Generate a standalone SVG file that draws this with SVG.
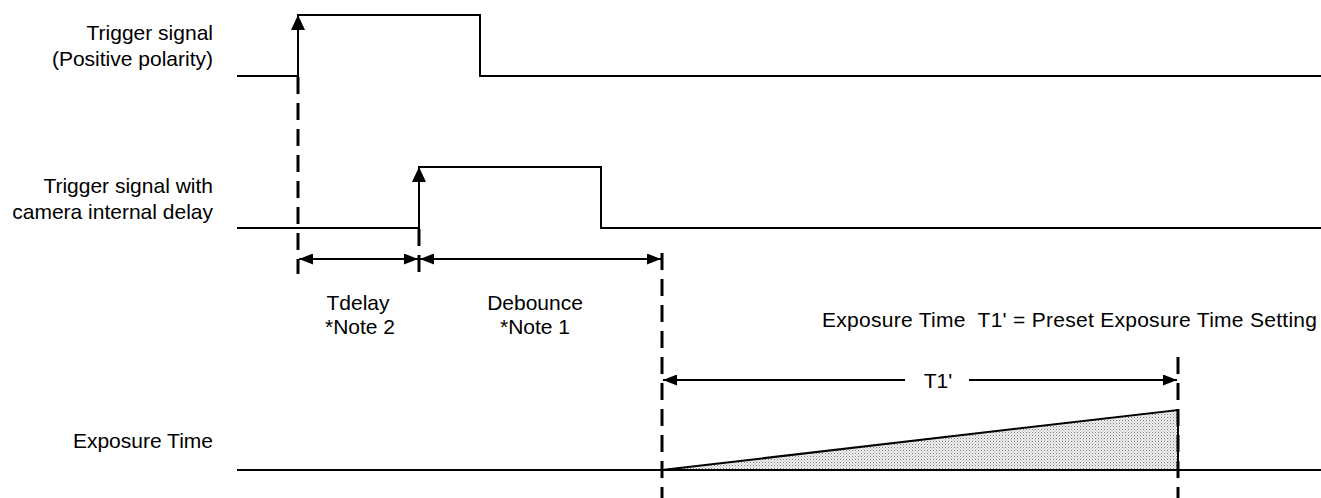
<svg xmlns="http://www.w3.org/2000/svg" width="1321" height="498" viewBox="0 0 1321 498">
<style>
text{font-family:"Liberation Sans",Arial,sans-serif;font-size:21px;fill:#000;white-space:pre}
.sig{fill:none;stroke:#000;stroke-width:2}
.dash{fill:none;stroke:#000;stroke-width:3;stroke-dasharray:17 9}
.dim{fill:none;stroke:#000;stroke-width:2}
.r{text-anchor:end}
.m{text-anchor:middle}
</style>
<defs>
<marker id="ah" viewBox="0 0 14 11" refX="14" refY="5.5" markerWidth="14" markerHeight="11" markerUnits="userSpaceOnUse" orient="auto-start-reverse">
<path d="M0,0 L14,5.5 L0,11 Z" fill="#000"/>
</marker>
<pattern id="dots" width="3" height="3" patternUnits="userSpaceOnUse">
<rect width="3" height="3" fill="#f2f2f2"/>
<rect x="0" y="0" width="1" height="1" fill="#7a7a7a"/>
<rect x="1.5" y="1.5" width="1" height="1" fill="#9a9a9a"/>
</pattern>
</defs>
<g id="labels">
<text class="r" x="213" y="40">Trigger signal</text>
<text class="r" x="213" y="66">(Positive polarity)</text>
<text class="r" x="213" y="193">Trigger signal with</text>
<text class="r" x="213" y="219">camera internal delay</text>
<text class="r" x="213" y="448">Exposure Time</text>
</g>
<g id="trigger">
<path class="sig" d="M237,76 H298 V15 H480 V76 H1321"/>
<path d="M298,15 L291,30 L305,30 Z" fill="#000"/>
</g>
<g id="trigger-delayed">
<path class="sig" d="M237,228 H419 V167 H601 V228 H1321"/>
<path d="M419,167 L412,182 L426,182 Z" fill="#000"/>
</g>
<g id="exposure">
<path d="M662,470 L1178,410 L1178,470 Z" fill="url(#dots)" stroke="#000" stroke-width="2" stroke-linejoin="miter"/>
<path class="sig" d="M237,470 H1321"/>
</g>
<g id="connectors">
<path class="dash" d="M298,77 V274"/>
<path class="dash" d="M419,229 V274"/>
<path class="dash" d="M662,253 V498"/>
<path class="dash" d="M1178,357 V498"/>
<line class="dim" x1="299" y1="259" x2="418" y2="259" marker-start="url(#ah)" marker-end="url(#ah)"/>
<line class="dim" x1="420" y1="259" x2="661" y2="259" marker-start="url(#ah)" marker-end="url(#ah)"/>
<line class="dim" x1="663" y1="380" x2="905" y2="380" marker-start="url(#ah)"/>
<line class="dim" x1="969" y1="380" x2="1177" y2="380" marker-end="url(#ah)"/>
</g>
<g id="dim-labels">
<text class="m" x="358" y="310">Tdelay</text>
<text class="m" x="360" y="334">*Note 2</text>
<text class="m" x="535" y="310">Debounce</text>
<text class="m" x="535" y="334">*Note 1</text>
<text class="m" x="938" y="388">T1'</text>
<text x="822" y="327" textLength="495" lengthAdjust="spacing" xml:space="preserve">Exposure Time  T1' = Preset Exposure Time Setting</text>
</g>
</svg>
